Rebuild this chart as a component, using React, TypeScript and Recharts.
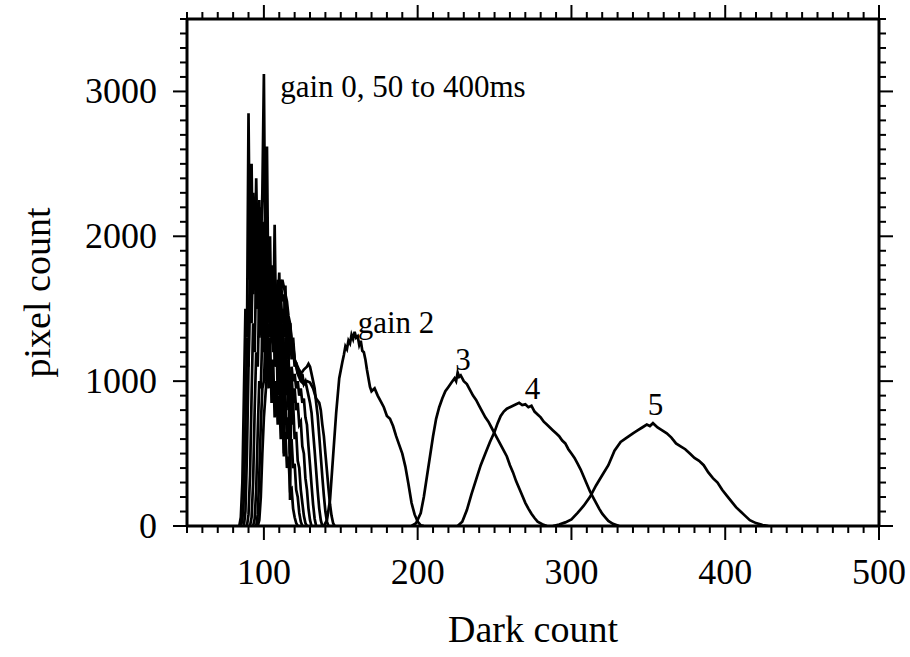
import React from 'react';
import { LineChart, Line, XAxis, YAxis, ReferenceDot } from 'recharts';

// gain 0 exposures, 50 to 400ms (dark count, pixel count)
const gain0Exp50: [number, number][] = [
  [84, 0], [85, 60], [86, 300], [87, 900], [88, 1500], [89, 1300], [90, 2850], [91, 1700], [92, 2500], [93, 1600],
  [94, 2200], [95, 1500], [96, 2000], [97, 1300], [98, 1800], [99, 1200], [100, 1650], [101, 1000], [102, 1500],
  [103, 950], [104, 1300], [105, 850], [106, 1150], [107, 750], [108, 1000], [109, 700], [110, 900], [111, 600],
  [112, 800], [113, 500], [114, 650], [115, 400], [116, 480], [117, 250], [118, 260], [119, 120], [120, 60], [121, 20], [122, 0],
];
const gain0Exp100: [number, number][] = [
  [85, 0], [86, 40], [87, 200], [88, 700], [89, 1300], [90, 1100], [91, 1900], [92, 1500], [93, 2300], [94, 1700],
  [95, 2400], [96, 1800], [97, 2200], [98, 1900], [99, 2300], [100, 3120], [101, 1700], [102, 2620], [103, 1500],
  [104, 2000], [105, 1300], [106, 1700], [107, 1100], [108, 1400], [109, 900], [110, 1200], [111, 800], [112, 1050],
  [113, 700], [114, 900], [115, 600], [116, 750], [117, 500], [118, 600], [119, 400], [120, 430], [121, 250], [122, 200],
  [123, 90], [124, 30], [125, 0],
];
const gain0Exp150: [number, number][] = [
  [87, 0], [88, 100], [89, 500], [90, 1100], [91, 1600], [92, 1400], [93, 2000], [94, 1700], [95, 2100], [96, 1600],
  [97, 2250], [98, 1800], [99, 2100], [100, 1700], [101, 2200], [102, 1600], [103, 1900], [104, 1500], [105, 1800],
  [106, 1300], [107, 2080], [108, 1300], [109, 1600], [110, 1100], [111, 1400], [112, 1000], [113, 1250], [114, 900],
  [115, 1100], [116, 800], [117, 950], [118, 700], [119, 850], [120, 600], [121, 650], [122, 450], [123, 400],
  [124, 250], [125, 160], [126, 70], [127, 20], [128, 0],
];
const gain0Exp200: [number, number][] = [
  [89, 0], [90, 80], [91, 350], [92, 900], [93, 1400], [94, 1200], [95, 1800], [96, 1500], [97, 1900], [98, 1600],
  [99, 2000], [100, 1500], [101, 1900], [102, 1400], [103, 1800], [104, 1300], [105, 1700], [106, 1200], [107, 1600],
  [108, 1100], [109, 1500], [110, 1750], [111, 1200], [112, 1400], [113, 480], [114, 1300], [115, 1000], [116, 1150],
  [117, 900], [118, 1050], [119, 850], [120, 950], [121, 800], [122, 850], [123, 700], [124, 720], [125, 550],
  [126, 500], [127, 330], [128, 250], [129, 120], [130, 40], [131, 0],
];
const gain0Exp250: [number, number][] = [
  [91, 0], [92, 60], [93, 300], [94, 800], [95, 1200], [96, 1100], [97, 1600], [98, 1400], [99, 1750], [100, 1500],
  [101, 1800], [102, 1450], [103, 1700], [104, 1400], [105, 1650], [106, 1350], [107, 1600], [108, 1300], [109, 1550],
  [110, 1250], [111, 1450], [112, 1200], [113, 1400], [114, 1660], [115, 1150], [116, 1300], [117, 180], [118, 1100],
  [119, 1000], [120, 1050], [121, 950], [122, 1000], [123, 900], [124, 950], [125, 850], [126, 880], [127, 750],
  [128, 700], [129, 550], [130, 420], [131, 280], [132, 150], [133, 50], [134, 0],
];
const gain0Exp300: [number, number][] = [
  [93, 0], [94, 50], [95, 250], [96, 650], [97, 1000], [98, 950], [99, 1350], [100, 1250], [101, 1550], [102, 1400],
  [103, 1650], [104, 1450], [105, 1700], [106, 1500], [107, 1680], [108, 1500], [109, 1650], [110, 1450], [111, 1600],
  [112, 1400], [113, 1500], [114, 1300], [115, 1400], [116, 1200], [117, 1400], [118, 1150], [119, 1250], [120, 1100],
  [121, 1130], [122, 1050], [123, 1080], [124, 1000], [125, 1050], [126, 980], [127, 1000], [128, 950], [129, 900],
  [130, 850], [131, 780], [132, 650], [133, 520], [134, 380], [135, 240], [136, 120], [137, 40], [138, 0],
];
const gain0Exp350: [number, number][] = [
  [95, 0], [96, 80], [97, 350], [98, 700], [99, 950], [100, 1000], [101, 1250], [102, 1200], [103, 1400], [104, 1350],
  [105, 1500], [106, 1450], [107, 1600], [108, 1550], [109, 1700], [110, 1600], [111, 1700], [112, 1550], [113, 1600],
  [114, 1450], [115, 1500], [116, 1350], [117, 1400], [118, 1250], [119, 1300], [120, 1150], [122, 1100], [124, 1050],
  [126, 1080], [128, 1100], [129, 1120], [130, 1100], [131, 1050], [132, 1000], [133, 950], [134, 850], [135, 760],
  [136, 620], [137, 480], [138, 340], [139, 210], [140, 100], [141, 30], [142, 0],
];
const gain0Exp400: [number, number][] = [
  [96, 0], [97, 40], [98, 200], [99, 500], [100, 750], [101, 900], [102, 1050], [103, 1100], [104, 1250], [105, 1300],
  [106, 1400], [107, 1450], [108, 1550], [109, 1500], [110, 1600], [111, 1620], [112, 1700], [113, 1650], [114, 1600],
  [115, 1550], [116, 1450], [117, 1400], [118, 1300], [119, 1250], [120, 1150], [122, 1050], [124, 1000], [126, 980],
  [128, 1000], [130, 990], [132, 950], [134, 880], [136, 850], [137, 800], [138, 700], [139, 620], [140, 500],
  [141, 380], [142, 260], [143, 150], [144, 70], [145, 20], [146, 0],
];

const gain2: [number, number][] = [
  [139, 0], [141, 40], [143, 180], [145, 480], [147, 780], [149, 1020], [151, 1130], [152, 1180], [153, 1240],
  [154, 1220], [155, 1280], [156, 1260], [157, 1320], [158, 1290], [159, 1340], [160, 1300], [161, 1310], [162, 1250],
  [163, 1280], [164, 1210], [165, 1200], [166, 1150], [167, 1080], [168, 1020], [169, 960], [170, 930], [172, 950],
  [174, 900], [176, 860], [178, 820], [180, 760], [182, 740], [184, 690], [186, 620], [188, 560], [190, 500],
  [192, 410], [194, 290], [196, 160], [198, 80], [200, 30], [202, 5], [204, 0],
];
const gain3: [number, number][] = [
  [196, 0], [199, 20], [202, 90], [204, 200], [206, 340], [208, 480], [210, 620], [212, 740], [214, 820], [216, 880],
  [218, 930], [220, 960], [222, 990], [224, 1020], [225, 1000], [226, 1060], [227, 1030], [228, 1040], [230, 1000],
  [232, 980], [234, 940], [236, 900], [238, 870], [240, 830], [242, 790], [244, 750], [246, 720], [248, 680],
  [250, 640], [252, 600], [254, 560], [256, 520], [258, 480], [260, 420], [262, 370], [264, 310], [266, 260],
  [268, 210], [270, 160], [272, 120], [274, 85], [276, 55], [278, 30], [281, 12], [284, 0],
];
const gain4: [number, number][] = [
  [226, 0], [229, 30], [232, 110], [235, 220], [238, 320], [241, 420], [244, 500], [247, 580], [250, 650], [252, 710],
  [254, 760], [256, 790], [258, 810], [260, 820], [262, 830], [264, 840], [266, 850], [268, 835], [270, 840],
  [272, 820], [274, 830], [276, 790], [278, 770], [280, 750], [282, 720], [284, 700], [286, 680], [288, 660],
  [290, 640], [292, 620], [294, 590], [296, 570], [298, 530], [300, 500], [302, 470], [304, 430], [306, 390],
  [308, 340], [310, 290], [312, 240], [314, 200], [316, 160], [318, 120], [320, 85], [322, 60], [324, 35], [327, 15], [331, 0],
];
const gain5: [number, number][] = [
  [288, 0], [292, 10], [296, 25], [300, 45], [304, 90], [308, 140], [312, 200], [316, 280], [320, 350], [324, 420],
  [328, 520], [332, 580], [336, 610], [340, 640], [343, 660], [346, 680], [349, 700], [351, 690], [353, 710],
  [356, 680], [359, 660], [362, 640], [365, 610], [368, 570], [371, 550], [374, 530], [377, 500], [380, 470],
  [383, 450], [386, 420], [389, 370], [392, 330], [395, 300], [398, 250], [401, 210], [404, 170], [407, 130],
  [410, 100], [413, 70], [416, 40], [420, 20], [424, 8], [428, 0],
];

const curves = [
  gain0Exp50, gain0Exp100, gain0Exp150, gain0Exp200, gain0Exp250, gain0Exp300, gain0Exp350, gain0Exp400,
  gain2, gain3, gain4, gain5,
];

// annotations: text, x, y (data units), anchor
const noteTexts = ['gain 0, 50 to 400ms', 'gain 2', '3', '4', '5'];
const noteX = [110.6, 161.0, 229.5, 274.6, 354.6];
const noteY = [2963, 1330, 1077, 874, 766];
const noteAnchor = ['start', 'start', 'middle', 'middle', 'middle'];

const xMajor = [100, 200, 300, 400, 500];
const yMajor = [0, 1000, 2000, 3000];
const xTicks = Array.from({ length: 46 }, (_, i) => 50 + i * 10);
const yTicks = Array.from({ length: 36 }, (_, i) => i * 100);

const serif = "'Liberation Serif', 'Times New Roman', serif";
const tickStroke = 2;

const BottomTick = ({ x, y, payload }: any) => {
  const major = xMajor.includes(payload.value);
  return (
    <g>
      <line x1={x} y1={y} x2={x} y2={y + (major ? 14 : 7)} stroke="#000" strokeWidth={tickStroke} />
      {major && (
        <text x={x} y={y + 58} textAnchor="middle" fontSize={36} fontFamily={serif} fill="#000">
          {payload.value}
        </text>
      )}
    </g>
  );
};

const TopTick = ({ x, y, payload }: any) => {
  const major = xMajor.includes(payload.value);
  return <line x1={x} y1={y} x2={x} y2={y - (major ? 14 : 7)} stroke="#000" strokeWidth={tickStroke} />;
};

const LeftTick = ({ x, y, payload }: any) => {
  const major = yMajor.includes(payload.value);
  return (
    <g>
      <line x1={x} y1={y} x2={x - (major ? 14 : 7)} y2={y} stroke="#000" strokeWidth={tickStroke} />
      {major && (
        <text x={x - 30} y={y + 12} textAnchor="end" fontSize={36} fontFamily={serif} fill="#000">
          {payload.value}
        </text>
      )}
    </g>
  );
};

const RightTick = ({ x, y, payload }: any) => {
  const major = yMajor.includes(payload.value);
  return <line x1={x} y1={y} x2={x + (major ? 14 : 7)} y2={y} stroke="#000" strokeWidth={tickStroke} />;
};

const axisLine = { stroke: '#000', strokeWidth: 3 };

export default function App() {
  return (
    <div style={{ position: 'absolute', left: 0, top: 0, background: '#fff' }}>
      <LineChart width={910} height={657} margin={{ top: 18, right: 30, bottom: 71, left: 87 }}>
        <XAxis
          type="number"
          dataKey="x"
          domain={[50, 500]}
          allowDataOverflow
          ticks={xTicks}
          interval={0}
          tickSize={0}
          tickMargin={0}
          tickLine={false}
          tick={<BottomTick />}
          axisLine={axisLine}
          height={60}
          label={{
            content: ({ viewBox }: any) => (
              <text x={viewBox.x + viewBox.width / 2} y={viewBox.y + 116} textAnchor="middle" fontSize={38} fontFamily={serif} fill="#000">
                Dark count
              </text>
            ),
          }}
        />
        <XAxis
          xAxisId="top"
          orientation="top"
          type="number"
          dataKey="x"
          domain={[50, 500]}
          allowDataOverflow
          ticks={xTicks}
          interval={0}
          tickSize={0}
          tickMargin={0}
          tickLine={false}
          tick={<TopTick />}
          axisLine={axisLine}
          height={1}
        />
        <YAxis
          type="number"
          domain={[0, 3500]}
          allowDataOverflow
          ticks={yTicks}
          interval={0}
          tickSize={0}
          tickMargin={0}
          tickLine={false}
          tick={<LeftTick />}
          axisLine={axisLine}
          width={100}
          label={{
            content: ({ viewBox }: any) => {
              const cx = viewBox.x + viewBox.width - 137;
              const cy = viewBox.y + viewBox.height / 2 + 20;
              return (
                <text x={cx} y={cy} textAnchor="middle" fontSize={38} fontFamily={serif} fill="#000" transform={`rotate(-90, ${cx}, ${cy})`}>
                  pixel count
                </text>
              );
            },
          }}
        />
        <YAxis
          yAxisId="right"
          orientation="right"
          type="number"
          domain={[0, 3500]}
          allowDataOverflow
          ticks={yTicks}
          interval={0}
          tickSize={0}
          tickMargin={0}
          tickLine={false}
          tick={<RightTick />}
          axisLine={axisLine}
          width={1}
        />
        {curves.map((c, i) => (
          <Line
            key={i}
            data={c.map(([x, y]) => ({ x, y }))}
            dataKey="y"
            type="linear"
            stroke="#000"
            strokeWidth={2.7}
            strokeLinejoin="miter"
            dot={false}
            activeDot={false}
            isAnimationActive={false}
          />
        ))}
        {/* invisible series tying the frame axes (top / right) to the same scales */}
        <Line
          xAxisId="top"
          yAxisId="right"
          data={gain5.map(([x, y]) => ({ x, y }))}
          dataKey="y"
          stroke="none"
          dot={false}
          activeDot={false}
          legendType="none"
          isAnimationActive={false}
        />
        {noteTexts.map((t, i) => (
          <ReferenceDot
            key={t}
            x={noteX[i]}
            y={noteY[i]}
            r={0}
            ifOverflow="visible"
            shape={(p: any) => (
              <text x={p.cx} y={p.cy} textAnchor={noteAnchor[i]} fontSize={31} fontFamily={serif} fill="#000">
                {t}
              </text>
            )}
          />
        ))}
      </LineChart>
    </div>
  );
}
